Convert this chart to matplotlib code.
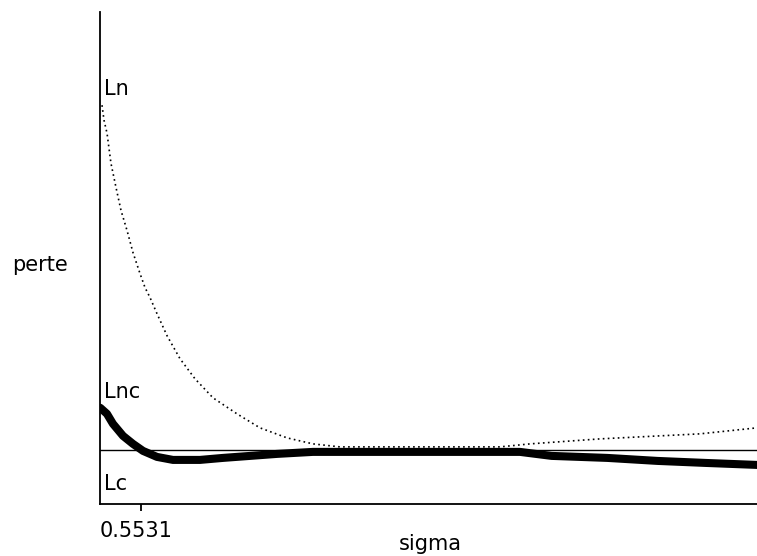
import matplotlib
matplotlib.use("Agg")
import matplotlib.pyplot as plt

# sigma values and losses
ln_sigma = [0.5026, 0.5052, 0.5091, 0.5142, 0.5207, 0.5272, 0.5350, 0.5427, 0.5518,
            0.5583, 0.5648, 0.5738, 0.5868, 0.6036, 0.6230, 0.6463, 0.6774, 0.7072,
            0.7422, 0.7758, 0.8108, 1.018, 1.057, 1.148, 1.277, 1.351]
ln_loss = [4.44, 4.29, 4.16, 3.86, 3.62, 3.39, 3.19, 2.97, 2.76,
           2.62, 2.52, 2.36, 2.14, 1.91, 1.71, 1.52, 1.36, 1.22,
           1.12, 1.06, 1.03, 1.03, 1.06, 1.11, 1.16, 1.22]

lnc_sigma = [0.5003, 0.5090, 0.5168, 0.5298, 0.5427, 0.5557, 0.5738, 0.5945, 0.6295,
             0.6593, 0.6943, 0.7293, 0.7758, 1.044, 1.085, 1.157, 1.222, 1.284, 1.351]
lnc_loss = [1.42, 1.36, 1.26, 1.14, 1.06, 0.99, 0.93, 0.90, 0.90,
            0.92, 0.94, 0.96, 0.98, 0.98, 0.94, 0.92, 0.89, 0.87, 0.85]

lc_loss = 1.0
opt_sigma = 0.5531
xlim = (0.5, 1.351)
ylim = (0.46, 5.37)

W, H = 757, 556
fig = plt.figure(figsize=(W / 100, H / 100), dpi=100)
ax = fig.add_axes([100 / W, (H - 504) / H, (W - 100) / W, (504 - 12) / H])
ax.set_xlim(*xlim)
ax.set_ylim(*ylim)
for s in ["top", "right"]:
    ax.spines[s].set_visible(False)
for s in ["left", "bottom"]:
    ax.spines[s].set_linewidth(1.3)
    ax.spines[s].set_color("black")

ax.axhline(lc_loss, color="black", lw=1.0)
ax.plot(ln_sigma, ln_loss, color="black", lw=1.2, linestyle=(0, (1, 2)))
ax.plot(lnc_sigma, lnc_loss, color="black", lw=5.8, solid_capstyle="round")

font = dict(family="DejaVu Sans", fontsize=15)
ax.set_yticks([])
ax.set_xticks([opt_sigma])
ax.set_xticklabels([""])
ax.tick_params(axis="x", length=5, width=1.3)
ax.annotate("0.5531", xy=(opt_sigma, H - 537), xycoords=("data", "figure pixels"),
            xytext=(-5, 0), textcoords="offset pixels",
            ha="center", va="baseline", **font)


def ftext(px, py, s, ha="left"):
    fig.text(px / W, 1 - py / H, s, ha=ha, va="baseline", **font)


ftext(104, 95, "Ln")
ftext(104, 398, "Lnc")
ftext(104, 490, "Lc")
ftext(40, 271, "perte", ha="center")
ftext(430, 550, "sigma", ha="center")

fig.savefig("out.png", dpi=100)
